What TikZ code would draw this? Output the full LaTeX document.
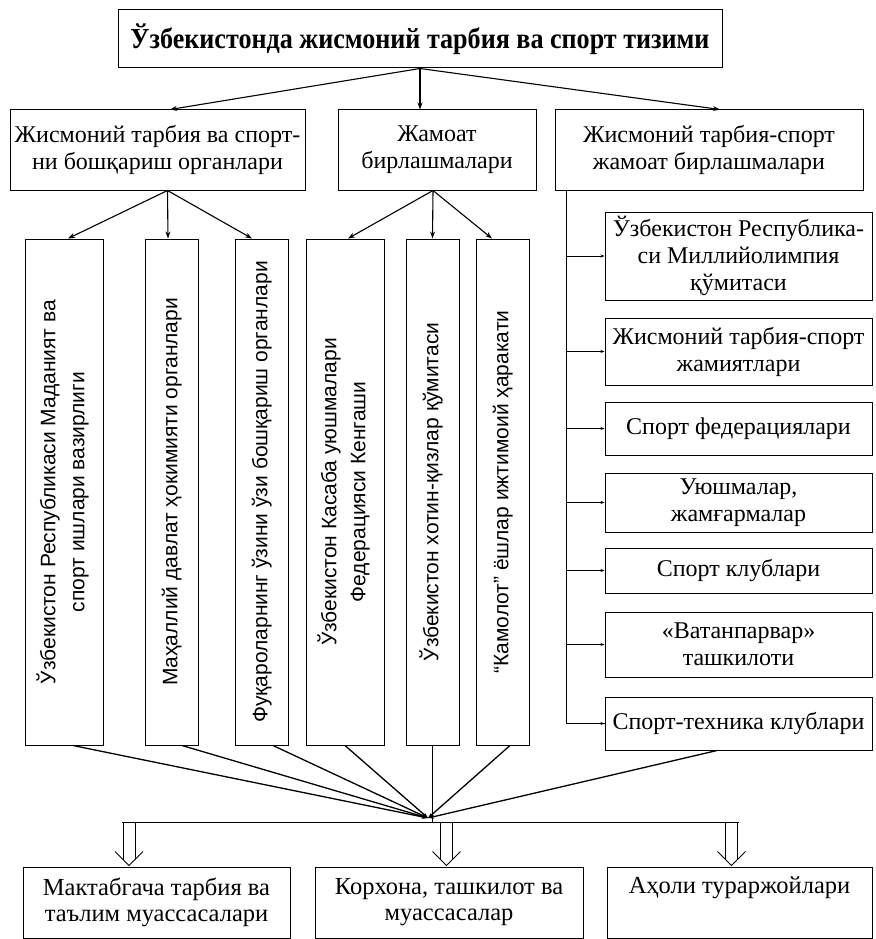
\documentclass[tikz,border=0pt]{standalone}
\usepackage{fontspec}
\setmainfont{Liberation Serif}
\newfontfamily\sansf{Liberation Sans}
\newfontfamily\titlef[FakeStretch=0.9]{Liberation Serif}
\usetikzlibrary{arrows.meta,calc}
\newcommand\vtext[1]{\rotatebox{90}{\sansf\fontsize{21}{29}\selectfont\begin{tabular}{@{}c@{}}#1\end{tabular}}}
\begin{document}
\begin{tikzpicture}[x=1pt,y=-1pt,
  box/.style={draw, line width=1pt, inner sep=0pt, align=center, font=\fontsize{24}{27}\selectfont},
  vbox/.style={draw, line width=1pt, inner sep=0pt, minimum height=506},
  rbox/.style={box, minimum width=267},
  bbox/.style={box, minimum height=71, font=\fontsize{24.5}{26}\selectfont},
  arr/.style={line width=1.1pt, -{Stealth[length=7pt,width=5pt]}},
  sarr/.style={line width=1pt, -{Stealth[length=4pt,width=3pt]}},
  conv/.style={line width=1.3pt, -{Stealth[length=6pt,width=4pt]}},
  dline/.style={line width=1pt}]
\useasboundingbox (0,0) rectangle (875,939);

\node[box, minimum width=604, minimum height=58, font=\titlef\bfseries\fontsize{29}{30}\selectfont] (T) at (420,39) {Ўзбекистонда жисмоний тарбия ва спорт тизими};

\node[box, minimum width=295, minimum height=80] (A) at (157.5,150) {Жисмоний тарбия ва спорт-\\ни бошқариш органлари};
\node[box, minimum width=198, minimum height=80] (B) at (437,150) {Жамоат\\бирлашмалари};
\node[box, minimum width=308, minimum height=80] (C) at (709,150) {Жисмоний тарбия-спорт\\жамоат бирлашмалари};

\node[vbox, minimum width=78] (V1) at (64,492) {\vtext{Ўзбекистон Республикаси Маданият ва\\спорт ишлари вазирлиги}};
\node[vbox, minimum width=53] (V2) at (171.5,492) {\vtext{Маҳаллий давлат ҳокимияти органлари}};
\node[vbox, minimum width=53] (V3) at (261.5,492) {\vtext{Фуқароларнинг ўзини ўзи бошқариш органлари}};
\node[vbox, minimum width=78] (V4) at (345,492) {\vtext{Ўзбекистон Касаба уюшмалари\\Федерацияси Кенгаши}};
\node[vbox, minimum width=53] (V5) at (432.5,492) {\vtext{Ўзбекистон хотин-қизлар қўмитаси}};
\node[vbox, minimum width=53] (V6) at (502.5,492) {\vtext{“Камолот” ёшлар ижтимоий ҳаракати}};

\node[rbox, minimum height=88] (R1) at (738.5,256) {Ўзбекистон Республика-\\си Миллийолимпия\\қўмитаси};
\node[rbox, minimum height=67] (R2) at (738.5,351.5) {Жисмоний тарбия-спорт\\жамиятлари};
\node[rbox, minimum height=53] (R3) at (738.5,428.5) {Спорт федерациялари};
\node[rbox, minimum height=59] (R4) at (738.5,502.5) {Уюшмалар,\\жамғармалар};
\node[rbox, minimum height=45] (R5) at (738.5,570.5) {Спорт клублари};
\node[rbox, minimum height=65] (R6) at (738.5,644.5) {«Ватанпарвар»\\ташкилоти};
\node[rbox, minimum height=53] (R7) at (738.5,723.5) {Спорт-техника клублари};

\node[bbox, minimum width=267] (L) at (156.5,902.5) {Мактабгача тарбия ва\\таълим муассасалари};
\node[bbox, minimum width=268] (M) at (449,902.5) {Корхона, ташкилот ва\\муассасалар};
\node[bbox, minimum width=265] (N) at (739.5,902.5) {Аҳоли тураржойлари\\\strut};

% top level arrows
\draw[arr] (T.south) -- ([xshift=12.5pt]A.north);
\draw[arr] (T.south) -- (B.north -| T.south);
\draw[arr] (T.south) -- ([xshift=11pt]C.north);

% from A
\coordinate (a0) at ([xshift=10pt]A.south);
\draw[arr] (a0) -- ([xshift=4pt]V1.north);
\draw[arr] (a0) -- ([xshift=-3.5pt]V2.north);
\draw[arr] (a0) -- ([xshift=-9.5pt]V3.north);
% from B
\coordinate (b0) at ([xshift=-4pt]B.south);
\draw[arr] (b0) -- ([xshift=3pt]V4.north);
\draw[arr] (b0) -- (V5.north);
\draw[arr] (b0) -- ([xshift=-10.5pt]V6.north);

% trunk on the right
\coordinate (tr) at ([xshift=12pt]C.south west);
\draw[line width=1pt] (tr) |- (R7.west);
\foreach \r in {R1,R2,R3,R4,R5,R6,R7}
  \draw[sarr] (tr |- \r.west) -- (\r.west);

% converging lines
\coordinate (cv) at (428,818);
\draw[conv] ([xshift=9pt]V1.south) -- (cv);
\draw[conv] ([xshift=10.5pt]V2.south) -- (cv);
\draw[conv] ([xshift=11.5pt]V3.south) -- (cv);
\draw[conv] (V4.south) -- (cv);
\draw[conv] ([xshift=7.5pt]V6.south) -- (cv);
\draw[conv] ([xshift=-21.5pt]R7.south) -- (cv);

% bus
\coordinate (bl) at (122,822);
\coordinate (br) at (738.5,822);
\draw[line width=1pt] (V5.south) -- (V5.south |- bl);
\draw[line width=1pt] (bl) -- (br);

% hollow double arrows from the bus to the bottom boxes
\foreach \t/\cx in {L/129, M/446.5, N/731.5}{
  \coordinate (top\t) at (\cx,822);
  \coordinate (tip\t) at (\t.north -| top\t);
  \draw[dline] ($(top\t)+(-6,0)$) -- ($(tip\t)+(-6,-6.5)$);
  \draw[dline] ($(top\t)+(6,0)$) -- ($(tip\t)+(6,-6.5)$);
  \draw[dline, line join=miter] ($(tip\t)+(-14,-15)$) -- ($(tip\t)+(0,-1)$) -- ($(tip\t)+(14,-15)$);
}
\end{tikzpicture}
\end{document}
